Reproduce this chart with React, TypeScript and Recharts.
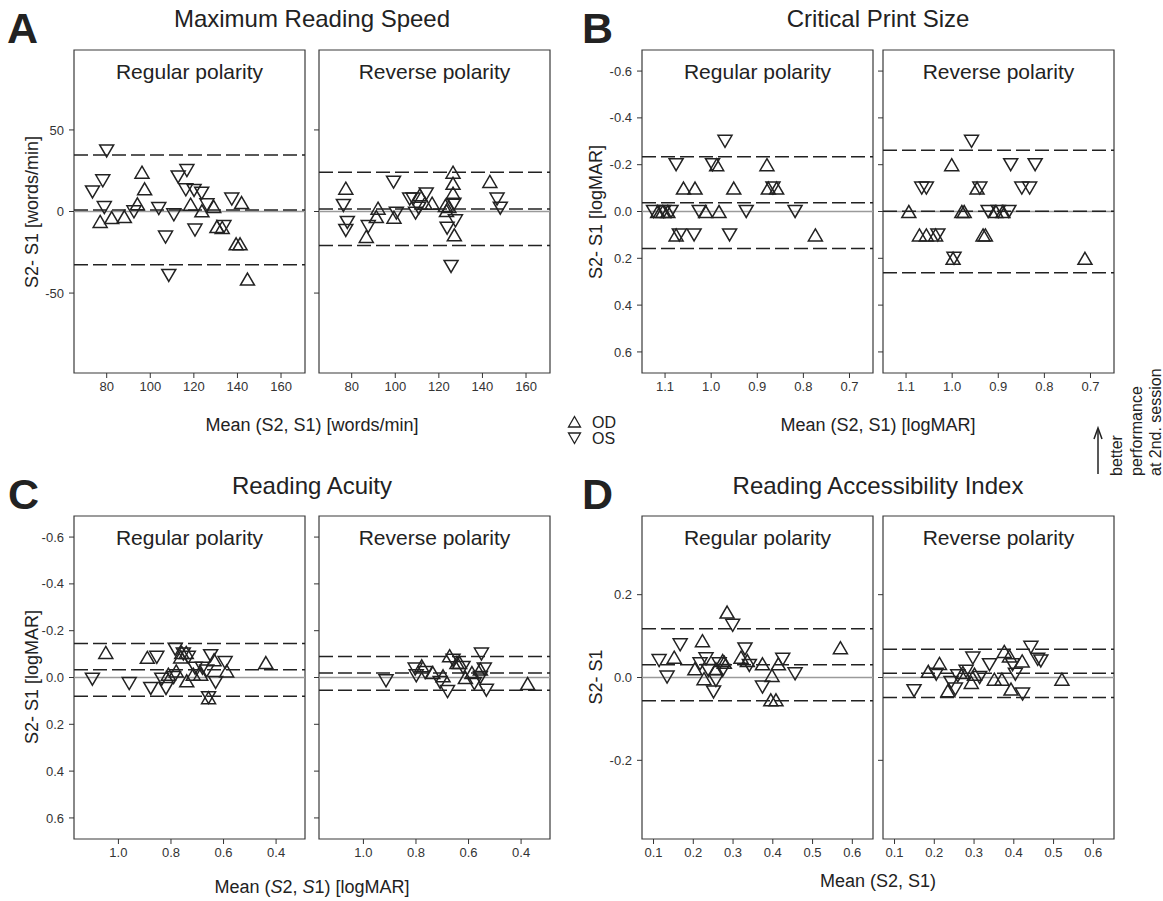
import { ScatterChart, Scatter, XAxis, YAxis, ReferenceLine, ReferenceArea } from 'recharts';

// ---- data: [mean, difference] pairs ----
// A: maximum reading speed (words/min)
const speedRegOD = [[77, -6.1], [82.3, -3.7], [88.1, -3.1], [94.1, 4.7], [96.2, 24.1], [97.4, 13.9], [118.5, 4.5], [123.7, 0.4], [129.1, 3.1], [130.6, -9.2], [133, -9.8], [139.4, -19.8], [141.2, -19.8], [141.9, 5.5], [144.6, -41.4]];
const speedRegOS = [[80, 37.1], [78.2, 18.8], [73.5, 12], [78.9, 2.4], [92.5, -0.2], [103.9, 1.8], [110.8, -2], [107, -15.7], [108.5, -39.2], [112.8, 21.2], [116.8, 25.1], [116.3, 13.3], [120.1, 12.9], [123.6, 11.2], [120.5, -11.4], [126, 4.1], [137.4, 7.6], [133.8, -9.2]];
const speedRevOD = [[77.3, 14.3], [92.1, 2], [91.3, -3.1], [86.7, -15.3], [99.4, -3.5], [111.3, 10.2], [113.6, 5.1], [116.9, 5.1], [123, 3.7], [124.6, 3.1], [123.5, 0.6], [126.5, 24.1], [126.5, 17.3], [126.5, 11.2], [127.1, -14.3], [143.4, 18.4]];
const speedRevOS = [[76.2, 3.7], [78, -6.7], [77.3, -11.6], [87.6, -9.2], [99.2, 18], [100.5, -1], [106.6, 7.6], [108.2, 7.6], [109.3, -1], [110.8, 2], [114.2, 10.8], [123.8, -10.2], [125.6, -33.7], [126.9, 4.5], [127.6, -5.7], [146.7, 7.6], [148.2, 2]];

// B: critical print size (logMAR)
const cpsRegOD = [[1.116, 0], [1.105, 0], [1.094, 0], [1.076, 0.1], [1.06, -0.1], [1.035, -0.1], [1.012, 0], [0.988, -0.2], [0.983, 0], [0.951, -0.1], [0.879, -0.2], [0.876, -0.1], [0.858, -0.1], [0.774, 0.1]];
const cpsRegOS = [[1.125, 0], [1.103, 0], [1.087, 0], [1.076, -0.2], [1.069, 0.1], [1.037, 0.1], [1.026, 0], [0.997, -0.2], [0.97, -0.3], [0.96, 0.1], [0.924, 0], [0.866, -0.1], [0.818, 0]];
const cpsRevOD = [[1.094, 0], [1.001, -0.2], [1.071, 0.1], [1.056, 0.1], [1.036, 0.1], [0.979, 0], [0.974, 0], [0.946, -0.1], [0.933, 0.1], [0.928, 0.1], [0.905, 0], [0.89, 0], [0.712, 0.2], [0.998, 0.2]];
const cpsRevOS = [[1.066, -0.1], [1.056, -0.1], [1.031, 0.1], [0.996, 0.2], [0.958, -0.3], [0.94, -0.1], [0.922, 0], [0.9, 0], [0.877, 0], [0.873, -0.2], [0.849, -0.1], [0.832, -0.1], [0.82, -0.2]];

// C: reading acuity (logMAR)
const acuRegOD = [[1.048, -0.107], [0.89, -0.086], [0.81, -0.014], [0.78, -0.028], [0.763, -0.088], [0.759, -0.107], [0.742, -0.107], [0.74, 0.014], [0.715, -0.014], [0.687, -0.014], [0.657, 0.086], [0.636, -0.076], [0.588, -0.028], [0.439, -0.064]];
const acuRegOS = [[1.099, 0.007], [0.959, 0.026], [0.877, 0.047], [0.854, -0.086], [0.835, 0.007], [0.819, 0.047], [0.79, 0], [0.784, -0.121], [0.753, -0.1], [0.734, -0.086], [0.708, -0.04], [0.68, -0.04], [0.664, -0.028], [0.649, -0.093], [0.63, 0.021], [0.594, -0.064], [0.657, 0.086]];
const acuRevOD = [[0.778, -0.05], [0.736, -0.021], [0.697, -0.007], [0.672, -0.093], [0.644, -0.064], [0.634, -0.064], [0.612, 0], [0.587, -0.021], [0.555, -0.036], [0.375, 0.026]];
const acuRevOS = [[0.914, 0.014], [0.803, -0.036], [0.799, -0.007], [0.765, -0.021], [0.708, 0.021], [0.68, 0.06], [0.659, -0.074], [0.621, -0.043], [0.578, 0.026], [0.555, 0], [0.551, -0.1], [0.54, -0.036], [0.532, 0.054]];

// D: reading accessibility index
const raiRegOD = [[0.152, 0.049], [0.204, 0.021], [0.223, 0.089], [0.227, -0.003], [0.257, 0.021], [0.274, 0.041], [0.278, 0.037], [0.285, 0.158], [0.32, 0.049], [0.336, 0.041], [0.374, 0.033], [0.398, 0.005], [0.395, -0.054], [0.408, -0.054], [0.414, 0.033], [0.57, 0.072]];
const raiRegOS = [[0.114, 0.041], [0.134, 0.001], [0.167, 0.079], [0.217, 0.033], [0.232, 0.045], [0.238, 0.017], [0.251, -0.035], [0.257, -0.007], [0.265, 0.033], [0.274, 0.017], [0.299, 0.126], [0.33, 0.069], [0.341, 0.029], [0.374, -0.023], [0.425, 0.044], [0.456, 0.009]];
const raiRevOD = [[0.185, 0.015], [0.213, 0.034], [0.234, -0.032], [0.272, 0.012], [0.293, -0.012], [0.301, 0.008], [0.351, -0.004], [0.37, -0.004], [0.376, 0.063], [0.389, 0.052], [0.393, -0.028], [0.421, 0.04], [0.521, -0.004]];
const raiRevOS = [[0.149, -0.032], [0.205, 0.008], [0.242, -0.012], [0.253, -0.028], [0.259, 0.004], [0.28, 0.015], [0.297, 0.047], [0.314, 0], [0.339, 0.031], [0.397, 0.031], [0.404, 0.008], [0.422, -0.04], [0.443, 0.073], [0.46, 0.044], [0.468, 0.04]];

// upper limit, mean difference, lower limit
const speedRegLimits = [34.7, 0.85, -32.6];
const speedRevLimits = [24.1, 1.6, -20.8];
const cpsRegLimits = [-0.234, -0.037, 0.158];
const cpsRevLimits = [-0.262, -0.001, 0.262];
const acuRegLimits = [-0.145, -0.033, 0.08];
const acuRevLimits = [-0.09, -0.019, 0.054];
const raiRegLimits = [0.118, 0.031, -0.056];
const raiRevLimits = [0.068, 0.01, -0.048];

// axis ticks
const speedXTicks = [80, 100, 120, 140, 160];
const speedYTicks = [-50, 0, 50];
const cpsXTicks = [1.1, 1.0, 0.9, 0.8, 0.7];
const logmarYTicks = [-0.6, -0.4, -0.2, 0, 0.2, 0.4, 0.6];
const acuXTicks = [1.0, 0.8, 0.6, 0.4];
const raiXTicks = [0.1, 0.2, 0.3, 0.4, 0.5, 0.6];
const raiYTicks = [-0.2, 0, 0.2];

const FONT = '"Liberation Sans", Arial, Helvetica, sans-serif';
const INK = '#222';
const BOX_W = 231;
const BOX_H = 323;

const pts = (a: number[][]) => a.map(([x, y]) => ({ x, y }));

// open triangles, R pch 2 / 6 style
const UpTri = (p: any) => (
  <path
    d={`M${p.cx},${p.cy - 6} L${p.cx + 7},${p.cy + 6} L${p.cx - 7},${p.cy + 6} Z`}
    fill="none"
    stroke={INK}
    strokeWidth={1.5}
  />
);
const DownTri = (p: any) => (
  <path
    d={`M${p.cx},${p.cy + 6} L${p.cx + 7},${p.cy - 6} L${p.cx - 7},${p.cy - 6} Z`}
    fill="none"
    stroke={INK}
    strokeWidth={1.5}
  />
);

interface PanelProps {
  left: number;
  top: number;
  title: string;
  xDomain: [number, number];
  yDomain: [number, number];
  xTicks: number[];
  yTicks: number[];
  reversed?: boolean;
  showY?: boolean;
  xFmt: (v: number) => string;
  yFmt: (v: number) => string;
  od: number[][];
  os: number[][];
  limits: number[];
}

function Panel({ left, top, title, xDomain, yDomain, xTicks, yTicks, reversed = false, showY = false, xFmt, yFmt, od, os, limits }: PanelProps) {
  const yw = 50;
  const xh = 34;
  const pad = 3;
  return (
    <div style={{ position: 'absolute', left: left - yw, top: top - pad }}>
      <ScatterChart width={yw + BOX_W + pad} height={pad + BOX_H + xh} margin={{ top: pad, right: pad, bottom: 0, left: 0 }}>
        <XAxis
          type="number"
          dataKey="x"
          domain={xDomain}
          ticks={xTicks}
          reversed={reversed}
          allowDataOverflow
          height={xh}
          axisLine={false}
          tickSize={5}
          tickMargin={4}
          tickLine={{ stroke: '#333' }}
          tick={{ fill: '#333', fontSize: 13, fontFamily: FONT }}
          tickFormatter={xFmt}
          interval={0}
        />
        <YAxis
          type="number"
          dataKey="y"
          domain={yDomain}
          ticks={yTicks}
          reversed={reversed}
          allowDataOverflow
          width={yw}
          axisLine={false}
          tickSize={5}
          tickMargin={5}
          tickLine={{ stroke: '#333' }}
          tick={{ fill: '#333', fontSize: 13, fontFamily: FONT }}
          tickFormatter={showY ? yFmt : () => ''}
          interval={0}
        />
        <ReferenceArea
          x1={xDomain[0]}
          x2={xDomain[1]}
          y1={yDomain[0]}
          y2={yDomain[1]}
          fill="none"
          fillOpacity={0}
          stroke="#3a3a3a"
          strokeWidth={1.2}
          label={{ value: title, position: 'insideTop', offset: 14, fill: INK, fontSize: 21, fontFamily: FONT }}
        />
        <ReferenceLine y={0} stroke="#9a9a9a" strokeWidth={1.5} />
        {limits.map((v, i) => (
          <ReferenceLine key={i} y={v} stroke={INK} strokeWidth={1.5} strokeDasharray="14 5" />
        ))}
        <Scatter data={pts(od)} shape={UpTri} isAnimationActive={false} />
        <Scatter data={pts(os)} shape={DownTri} isAnimationActive={false} />
      </ScatterChart>
    </div>
  );
}

const intFmt = (v: number) => String(v);
const oneDec = (v: number) => v.toFixed(1);

export default function App() {
  const txt = { fontFamily: FONT, fill: INK };
  return (
    <div style={{ position: 'absolute', left: 0, top: 0, width: 1163, height: 901, background: '#fff', fontFamily: FONT }}>
      {/* A */}
      <Panel left={74} top={50} title="Regular polarity" xDomain={[65, 171]} yDomain={[-99, 99]} xTicks={speedXTicks} yTicks={speedYTicks} showY xFmt={intFmt} yFmt={intFmt} od={speedRegOD} os={speedRegOS} limits={speedRegLimits} />
      <Panel left={319} top={50} title="Reverse polarity" xDomain={[65, 171]} yDomain={[-99, 99]} xTicks={speedXTicks} yTicks={speedYTicks} xFmt={intFmt} yFmt={intFmt} od={speedRevOD} os={speedRevOS} limits={speedRevLimits} />
      {/* B */}
      <Panel left={642} top={50} title="Regular polarity" xDomain={[0.649, 1.15]} yDomain={[-0.69, 0.69]} xTicks={cpsXTicks} yTicks={logmarYTicks} reversed showY xFmt={oneDec} yFmt={oneDec} od={cpsRegOD} os={cpsRegOS} limits={cpsRegLimits} />
      <Panel left={883} top={50} title="Reverse polarity" xDomain={[0.649, 1.15]} yDomain={[-0.69, 0.69]} xTicks={cpsXTicks} yTicks={logmarYTicks} reversed xFmt={oneDec} yFmt={oneDec} od={cpsRevOD} os={cpsRevOS} limits={cpsRevLimits} />
      {/* C */}
      <Panel left={74} top={516} title="Regular polarity" xDomain={[0.29, 1.169]} yDomain={[-0.69, 0.69]} xTicks={acuXTicks} yTicks={logmarYTicks} reversed showY xFmt={oneDec} yFmt={oneDec} od={acuRegOD} os={acuRegOS} limits={acuRegLimits} />
      <Panel left={319} top={516} title="Reverse polarity" xDomain={[0.29, 1.169]} yDomain={[-0.69, 0.69]} xTicks={acuXTicks} yTicks={logmarYTicks} reversed xFmt={oneDec} yFmt={oneDec} od={acuRevOD} os={acuRevOS} limits={acuRevLimits} />
      {/* D */}
      <Panel left={642} top={516} title="Regular polarity" xDomain={[0.071, 0.652]} yDomain={[-0.39, 0.39]} xTicks={raiXTicks} yTicks={raiYTicks} showY xFmt={oneDec} yFmt={oneDec} od={raiRegOD} os={raiRegOS} limits={raiRegLimits} />
      <Panel left={883} top={516} title="Reverse polarity" xDomain={[0.071, 0.652]} yDomain={[-0.39, 0.39]} xTicks={raiXTicks} yTicks={raiYTicks} xFmt={oneDec} yFmt={oneDec} od={raiRevOD} os={raiRevOS} limits={raiRevLimits} />

      <svg width={1163} height={901} style={{ position: 'absolute', left: 0, top: 0, pointerEvents: 'none' }}>
        {/* panel letters */}
        <text x={7} y={43} fontSize={43} fontWeight="bold" {...txt}>A</text>
        <text x={582} y={43} fontSize={43} fontWeight="bold" {...txt}>B</text>
        <text x={8} y={509} fontSize={43} fontWeight="bold" {...txt}>C</text>
        <text x={582} y={509} fontSize={43} fontWeight="bold" {...txt}>D</text>

        {/* panel titles */}
        <text x={312} y={27} fontSize={24} textAnchor="middle" {...txt}>Maximum Reading Speed</text>
        <text x={878} y={27} fontSize={24} textAnchor="middle" {...txt}>Critical Print Size</text>
        <text x={312} y={494} fontSize={24} textAnchor="middle" {...txt}>Reading Acuity</text>
        <text x={878} y={494} fontSize={24} textAnchor="middle" {...txt}>Reading Accessibility Index</text>

        {/* y axis titles */}
        <text transform="translate(38,212) rotate(-90)" fontSize={18} textAnchor="middle" {...txt}>S2- S1 [words/min]</text>
        <text transform="translate(602,212) rotate(-90)" fontSize={18} textAnchor="middle" {...txt}>S2- S1 [logMAR]</text>
        <text transform="translate(38,677) rotate(-90)" fontSize={18} textAnchor="middle" {...txt}>S2- S1 [logMAR]</text>
        <text transform="translate(602,677) rotate(-90)" fontSize={18} textAnchor="middle" {...txt}>S2- S1</text>

        {/* x axis titles */}
        <text x={312} y={431} fontSize={18} textAnchor="middle" {...txt}>Mean (S2, S1) [words/min]</text>
        <text x={878} y={431} fontSize={18} textAnchor="middle" {...txt}>Mean (S2, S1) [logMAR]</text>
        <text x={312} y={893} fontSize={18} textAnchor="middle" {...txt}>
          Mean (<tspan fontStyle="italic">S</tspan>2, <tspan fontStyle="italic">S</tspan>1) [logMAR]
        </text>
        <text x={878} y={887} fontSize={18} textAnchor="middle" {...txt}>Mean (S2, S1)</text>

        {/* legend */}
        <path d="M574.5,416.5 L580.5,427 L568.5,427 Z" fill="none" stroke={INK} strokeWidth={1.3} />
        <text x={592} y={428} fontSize={16} {...txt}>OD</text>
        <path d="M574.5,443.5 L580.5,433 L568.5,433 Z" fill="none" stroke={INK} strokeWidth={1.3} />
        <text x={592} y={444} fontSize={16} {...txt}>OS</text>

        {/* direction note */}
        <line x1={1098} y1={474} x2={1098} y2={430} stroke={INK} strokeWidth={1.5} />
        <path d="M1094,439 L1098,428 L1102,439" fill="none" stroke={INK} strokeWidth={1.5} />
        <text transform="translate(1122,476) rotate(-90)" fontSize={16} {...txt}>better</text>
        <text transform="translate(1142,476) rotate(-90)" fontSize={16} {...txt}>performance</text>
        <text transform="translate(1161,476) rotate(-90)" fontSize={16} {...txt}>at 2nd. session</text>
      </svg>
    </div>
  );
}
